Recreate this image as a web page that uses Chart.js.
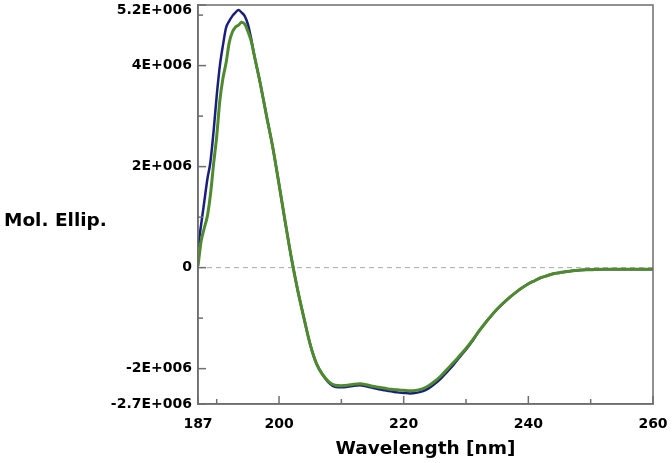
<!DOCTYPE html>
<html>
<head>
<meta charset="utf-8">
<script src="https://cdn.jsdelivr.net/npm/chart.js@4/dist/chart.umd.min.js"></script>
<style>
  html, body { margin: 0; padding: 0; background: #fff; }
  #wrap { width: 672px; height: 463px; }
</style>
</head>
<body>
<div id="wrap"><canvas id="cdChart"></canvas></div>
<script>
// --- data (values in units of 1E+006) ---
const wavelengths = [187, 187.5, 188, 188.5, 189, 189.5, 190, 190.5, 191, 191.5, 192, 192.5, 193, 193.5,
    194, 194.5, 195, 195.5, 196, 197, 198, 199, 200, 201, 202, 203, 204, 205, 206, 207, 208, 209, 210,
    211, 212, 213, 214, 215, 216, 217, 218, 219, 220, 221, 222, 223, 224, 225, 226, 227, 228, 229, 230,
    231, 232, 233, 234, 235, 236, 237, 238, 239, 240, 241, 242, 243, 244, 245, 246, 248, 250, 252, 255, 258, 260];

const seriesBlue = [0.41, 0.85, 1.30, 1.75, 2.10, 2.70, 3.40, 3.99, 4.40, 4.75, 4.88, 4.98, 5.05, 5.10,
    5.05, 4.98, 4.82, 4.55, 4.22, 3.64, 3.00, 2.38, 1.65, 0.90, 0.18, -0.45, -1.00, -1.52, -1.90, -2.12, -2.28, -2.36, -2.37,
    -2.36, -2.34, -2.33, -2.35, -2.38, -2.41, -2.43, -2.45, -2.47, -2.48, -2.49, -2.48, -2.45, -2.39, -2.30, -2.19, -2.06, -1.92, -1.77, -1.62,
    -1.46, -1.27, -1.11, -0.96, -0.82, -0.70, -0.59, -0.49, -0.40, -0.32, -0.26, -0.20, -0.16, -0.12, -0.10, -0.08, -0.05, -0.04, -0.03, -0.03, -0.03, -0.03];

const seriesGreen = [0.03, 0.52, 0.78, 1.02, 1.45, 2.05, 2.60, 3.30, 3.75, 4.05, 4.45, 4.66, 4.76, 4.80,
    4.86, 4.82, 4.68, 4.50, 4.22, 3.64, 3.00, 2.38, 1.65, 0.90, 0.18, -0.45, -1.00, -1.52, -1.90, -2.12, -2.26, -2.33, -2.34,
    -2.33, -2.31, -2.30, -2.32, -2.35, -2.37, -2.39, -2.41, -2.42, -2.43, -2.44, -2.43, -2.40, -2.34, -2.25, -2.14, -2.01, -1.88, -1.74, -1.60,
    -1.44, -1.27, -1.11, -0.96, -0.82, -0.70, -0.59, -0.49, -0.40, -0.32, -0.26, -0.20, -0.16, -0.12, -0.10, -0.08, -0.05, -0.04, -0.03, -0.03, -0.03, -0.03];

const xTickValues = [187, 190, 200, 210, 220, 230, 240, 250, 260];
const xTickLabels = ['187', '', '200', '', '220', '', '240', '', '260'];
const yTickValues = [5.2, 5, 4, 3, 2, 1, 0, -1, -2, -2.7];
const yTickLabels = ['5.2E+006', '', '4E+006', '', '2E+006', '', '0', '', '-2E+006', '-2.7E+006'];

const navy = '#1b1f7c';
const green = '#4f8b2e';
const axisGrey = '#6e6e6e';
const fontFam = "'DejaVu Sans', sans-serif";

const toPoints = (vals) => vals.map((v, i) => ({ x: wavelengths[i], y: v * 1e6 }));

// dashed zero line under the curves
const zeroLinePlugin = {
    id: 'zeroLine',
    beforeDatasetsDraw(chart) {
        const { ctx, chartArea: a, scales } = chart;
        const y0 = scales.y.getPixelForValue(0);
        ctx.save();
        ctx.strokeStyle = '#a8a8a8';
        ctx.lineWidth = 1;
        ctx.setLineDash([5, 4]);
        ctx.beginPath();
        ctx.moveTo(a.left, y0);
        ctx.lineTo(a.right, y0);
        ctx.stroke();
        ctx.restore();
    }
};

// plot box, inward tick marks and the horizontal y title
const framePlugin = {
    id: 'frame',
    afterDraw(chart) {
        const ctx = chart.ctx;
        const a = chart.chartArea;
        const xs = chart.scales.x;
        const ys = chart.scales.y;
        ctx.save();
        ctx.strokeStyle = axisGrey;
        ctx.lineWidth = 1.5;
        ctx.beginPath();
        ctx.rect(a.left, a.top, a.right - a.left, a.bottom - a.top);
        ctx.stroke();

        for (let i = 0; i < xTickValues.length; i++) {
            const px = xs.getPixelForValue(xTickValues[i]);
            const len = xTickLabels[i] ? 8 : 5;
            ctx.beginPath();
            ctx.moveTo(px, a.bottom);
            ctx.lineTo(px, a.bottom - len);
            ctx.stroke();
        }
        for (let i = 0; i < yTickValues.length; i++) {
            const py = ys.getPixelForValue(yTickValues[i] * 1e6);
            const len = yTickLabels[i] ? 8 : 5;
            ctx.beginPath();
            ctx.moveTo(a.left, py);
            ctx.lineTo(a.left + len, py);
            ctx.stroke();
        }

        ctx.fillStyle = '#000';
        ctx.font = 'bold 18.5px ' + fontFam;
        ctx.textAlign = 'left';
        ctx.textBaseline = 'middle';
        ctx.fillText('Mol. Ellip.', 4, 221);
        ctx.restore();
    }
};

new Chart(document.getElementById('cdChart').getContext('2d'), {
    type: 'line',
    data: {
        datasets: [
            { label: 'Green', data: toPoints(seriesGreen), borderColor: green, borderWidth: 3, pointRadius: 0, cubicInterpolationMode: 'monotone', fill: false },
            { label: 'Navy', data: toPoints(seriesBlue), borderColor: navy, borderWidth: 2.5, pointRadius: 0, cubicInterpolationMode: 'monotone', fill: false }
        ]
    },
    options: {
        responsive: true,
        maintainAspectRatio: false,
        animation: false,
        layout: { padding: { left: 0, right: 19, top: 5, bottom: 0 } },
        plugins: { legend: { display: false }, tooltip: { enabled: false } },
        scales: {
            x: {
                type: 'linear',
                min: 187, max: 260,
                afterBuildTicks: (scale) => { scale.ticks = xTickValues.map(v => ({ value: v })); },
                afterFit: (scale) => { scale.height = 59; scale.paddingLeft = 0; scale.paddingRight = 0; },
                ticks: {
                    autoSkip: false, maxRotation: 0, padding: 12, color: '#000',
                    font: { family: fontFam, size: 14, weight: 'bold' },
                    callback: (value) => xTickLabels[xTickValues.indexOf(value)]
                },
                grid: { display: false, drawTicks: false },
                border: { display: true, color: axisGrey, width: 1.5 },
                title: {
                    display: true, text: 'Wavelength [nm]', color: '#000',
                    font: { family: fontFam, size: 18.5, weight: 'bold' },
                    padding: { top: 0, bottom: 3 }
                }
            },
            y: {
                min: -2.7e6, max: 5.2e6,
                afterBuildTicks: (scale) => { scale.ticks = yTickValues.map(v => ({ value: v * 1e6 })); },
                afterFit: (scale) => { scale.width = 198; scale.paddingTop = 0; scale.paddingBottom = 0; },
                ticks: {
                    autoSkip: false, padding: 6, color: '#000',
                    font: { family: fontFam, size: 14, weight: 'bold', lineHeight: 0.75 },
                    callback: (value) => {
                        const i = yTickValues.indexOf(Math.round(value / 1e5) / 10);
                        // top label sits a little below the frame edge, as in the original
                        return i === 0 ? ['', yTickLabels[i]] : yTickLabels[i];
                    }
                },
                grid: { display: false, drawTicks: false },
                border: { display: true, color: axisGrey, width: 1.5 }
            }
        }
    },
    plugins: [zeroLinePlugin, framePlugin]
});
</script>
</body>
</html>
